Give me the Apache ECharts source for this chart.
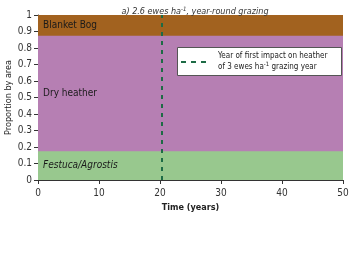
<!DOCTYPE html>
<html><head><meta charset="utf-8">
<script src="https://cdn.jsdelivr.net/npm/echarts@6/dist/echarts.min.js"></script>
<style>html,body{margin:0;padding:0;background:#fff}#c{width:350px;height:253px}</style>
</head><body><div id="c"></div>
<script>
const years = [0, 50];
const festuca = [0.175, 0.175];
const dryHeather = [0.70, 0.70];
const blanketBog = [0.125, 0.125];
const impactYear = 20.25;
const xTicks = [0, 10, 20, 30, 40, 50];
const yTicks = [0, 0.1, 0.2, 0.3, 0.4, 0.5, 0.6, 0.7, 0.8, 0.9, 1];

const FONT = '"Liberation Sans Narrow", "DejaVu Sans Condensed", "Liberation Sans", sans-serif';
const chart = echarts.init(document.getElementById('c'));
// cumulative tops of each band (drawn from 0, top band first so lower bands paint over it)
const cumFes = festuca.slice();
const cumDry = festuca.map((v, i) => v + dryHeather[i]);
const cumBog = cumDry.map((v, i) => v + blanketBog[i]);
function mk(name, vals, color) {
  return {
    name, type: 'line', symbol: 'none', silent: true,
    lineStyle: { width: 0 }, areaStyle: { color, opacity: 1 },
    data: years.map((y, i) => [y, vals[i]])
  };
}
const series = [
  mk('Blanket Bog', cumBog, '#a2621f'),
  mk('Dry heather', cumDry, '#b67fb3'),
  mk('Festuca/Agrostis', cumFes, '#98c88e')
];
series[2].markLine = {
  silent: true, symbol: 'none', label: { show: false },
  lineStyle: { type: [4, 5], color: '#1d6b45', width: 2 },
  data: [{ xAxis: impactYear }]
};
chart.setOption({
  animation: false,
  textStyle: { fontFamily: FONT },
  title: {
    text: '{t|a) 2.6 ewes ha}{s|-1}{t|, year-round grazing}',
    left: 190, top: 1, textAlign: 'center',
    textStyle: { fontWeight: 'normal', rich: {
      t: { fontSize: 9, fontStyle: 'italic', fontWeight: 'normal', color: '#333', fontFamily: FONT },
      s: { fontSize: 6, fontStyle: 'italic', fontWeight: 'normal', color: '#333', verticalAlign: 'top', fontFamily: FONT, padding: [0, 0, 5, 0] }
    } }
  },
  grid: { left: 38, right: 7, top: 15, bottom: 73, containLabel: false, outerBoundsMode: 'none' },
  xAxis: {
    type: 'value', min: xTicks[0], max: xTicks[xTicks.length - 1], interval: 10,
    name: 'Time (years)', nameLocation: 'middle', nameGap: 23, nameMoveOverlap: false,
    nameTextStyle: { fontSize: 9, fontWeight: 'bold', color: '#222', fontFamily: FONT },
    axisLine: { lineStyle: { color: '#333' } },
    axisTick: { length: 4, lineStyle: { color: '#333' } },
    axisLabel: { fontSize: 10, color: '#333', margin: 8, fontFamily: FONT },
    splitLine: { show: false }
  },
  yAxis: {
    type: 'value', min: yTicks[0], max: yTicks[yTicks.length - 1], interval: 0.1,
    name: 'Proportion by area', nameLocation: 'middle', nameGap: 25, nameMoveOverlap: false,
    nameTextStyle: { fontSize: 9, color: '#222', fontFamily: FONT },
    axisLine: { show: true, lineStyle: { color: '#333' } },
    axisTick: { show: true, length: 4, lineStyle: { color: '#333' } },
    axisLabel: { fontSize: 10, color: '#333', margin: 6, fontFamily: FONT,
      formatter: v => String(Math.round(v * 10) / 10) },
    splitLine: { show: false }
  },
  series
});
const p = (x, y) => chart.convertToPixel({ gridIndex: 0 }, [x, y]);
const bogMid = p(0, (cumDry[0] + cumBog[0]) / 2);
const dryMid = p(0, (cumFes[0] + cumDry[0]) / 2);
const fesMid = p(0, cumFes[0] / 2);
chart.setOption({
  graphic: [
    { type: 'text', z: 20, x: bogMid[0] + 5, y: bogMid[1], style: { text: 'Blanket Bog', fontSize: 10, fill: '#1a1a1a', fontFamily: FONT, verticalAlign: 'middle' } },
    { type: 'text', z: 20, x: dryMid[0] + 5, y: dryMid[1], style: { text: 'Dry heather', fontSize: 10, fill: '#1a1a1a', fontFamily: FONT, verticalAlign: 'middle' } },
    { type: 'text', z: 20, x: fesMid[0] + 5, y: fesMid[1], style: { text: 'Festuca/Agrostis', fontSize: 10, fontStyle: 'italic', fill: '#1a1a1a', fontFamily: FONT, verticalAlign: 'middle' } },
    { type: 'rect', z: 20, shape: { x: 177.5, y: 47.5, width: 164, height: 28 }, style: { fill: '#fff', stroke: '#555', lineWidth: 1 } },
    { type: 'line', z: 21, shape: { x1: 181, y1: 62, x2: 208, y2: 62 }, style: { stroke: '#1d6b45', lineWidth: 2, lineDash: [5, 5] } },
    { type: 'text', x: 218, y: 50.5, z: 21, style: {
      text: '{t|Year of first impact on heather}\n{t|of 3 ewes ha}{s|-1}{t| grazing year}', fill: '#222',
      rich: { t: { fontSize: 8, fontFamily: FONT, fill: '#222', lineHeight: 11 }, s: { fontSize: 6, fontFamily: FONT, fill: '#222', verticalAlign: 'top', lineHeight: 11 } }
    } }
  ]
});
</script></body></html>
